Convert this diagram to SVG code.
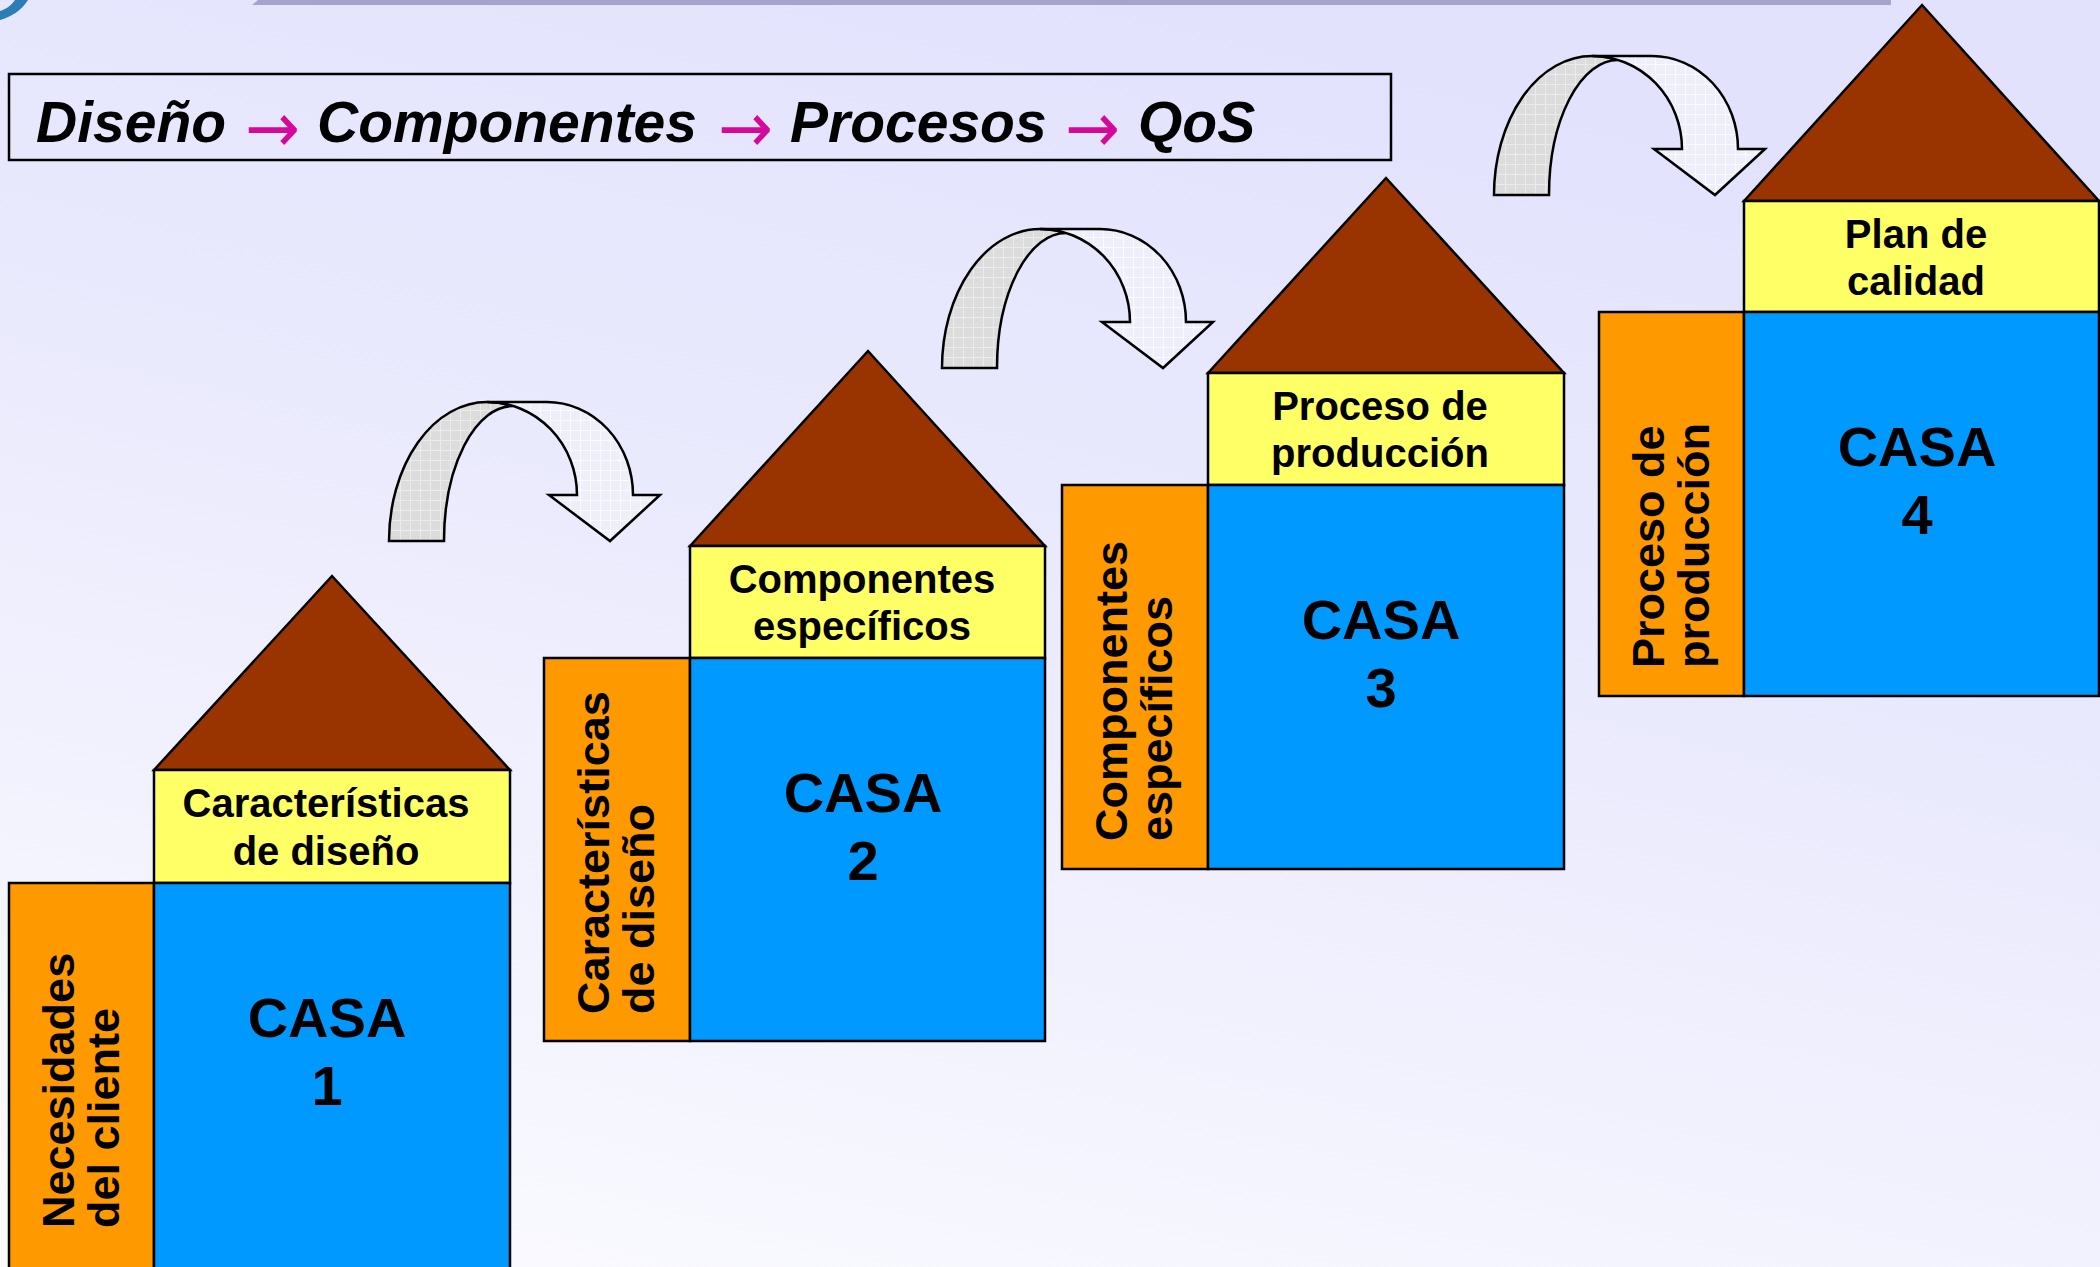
<svg xmlns="http://www.w3.org/2000/svg" width="2100" height="1267" viewBox="0 0 2100 1267">
  <defs>
    <linearGradient id="bg" x1="0.15" y1="1" x2="0.55" y2="0">
      <stop offset="0" stop-color="#fafaff"/>
      <stop offset="0.55" stop-color="#ebebfd"/>
      <stop offset="1" stop-color="#e2e2fd"/>
    </linearGradient>
    <pattern id="gridGrey" width="10" height="10" patternUnits="userSpaceOnUse">
      <rect width="10" height="10" fill="#dcdcdc"/>
      <path d="M0,0.5H10M0.5,0V10" stroke="#ebebeb" stroke-width="1"/>
    </pattern>
    <pattern id="gridLight" width="10" height="10" patternUnits="userSpaceOnUse">
      <rect width="10" height="10" fill="#efeffc"/>
      <path d="M0,0.5H10M0.5,0V10" stroke="#fbfbff" stroke-width="1"/>
    </pattern>
    <!-- curved "turn-over" arrow, drawn at its first position -->
    <g id="bendArrow">
      <path class="arrowBack" d="M389,541 A98,139 0 0 1 487,402 A90,93 0 0 1 513,406 A69,135 0 0 0 444,541 Z"/>
      <path class="arrowFront" d="M487,402 L547,402 A86,93 0 0 1 633,495 L660,495 L610,541 L549,495 L577,495 A90,93 0 0 0 487,402 Z"/>
    </g>
  </defs>
  <style>
    .roof { fill: #993300; stroke: #000; stroke-width: 2.5; stroke-linejoin: miter; }
    .top { fill: #ffff66; stroke: #000; stroke-width: 2.5; }
    .side { fill: #ff9900; stroke: #000; stroke-width: 2.5; }
    .body { fill: #0099ff; stroke: #000; stroke-width: 2.5; }
    .arrowBack { fill: url(#gridGrey); stroke: #000; stroke-width: 2.5; stroke-linejoin: miter; }
    .arrowFront { fill: url(#gridLight); stroke: #000; stroke-width: 2.5; stroke-linejoin: miter; }
    text { font-family: "Liberation Sans", Arial, sans-serif; font-weight: bold; fill: #000; }
    .lbl { font-size: 40px; text-anchor: middle; }
    .vlbl { font-size: 45px; }
    .casa { font-size: 56px; text-anchor: middle; }
    .title { font-size: 57px; font-style: italic; }
    .arr { font-family: "DejaVu Sans", sans-serif; font-size: 70px; font-weight: normal; fill: #d4089a; }
  </style>

  <!-- background -->
  <rect x="0" y="0" width="2100" height="1267" fill="url(#bg)"/>
  <polygon points="258,0 1891,0 1891,5 252,5" fill="#a4a4cc"/>
  <path d="M0,20 C11,17 22,10 28,0 L15,0 C11,6 6,9 0,11 Z" fill="#2b7db3"/>

  <!-- heading -->
  <g id="heading">
    <rect x="9" y="74" width="1382" height="86" fill="none" stroke="#000" stroke-width="2.5"/>
    <text class="title" y="142"><tspan x="36">Diseño</tspan><tspan x="317">Componentes</tspan><tspan x="790">Procesos</tspan><tspan x="1138">QoS</tspan></text>
    <text class="arr" y="152"><tspan x="245" textLength="55" lengthAdjust="spacingAndGlyphs">→</tspan><tspan x="718" textLength="55" lengthAdjust="spacingAndGlyphs">→</tspan><tspan x="1065" textLength="55" lengthAdjust="spacingAndGlyphs">→</tspan></text>
  </g>

  <!-- connectors: bent arrows between the houses -->
  <g id="connectors">
    <use href="#bendArrow"/>
    <use href="#bendArrow" transform="translate(553,-173)"/>
    <use href="#bendArrow" transform="translate(1105,-346)"/>
  </g>

  <!-- house 1 -->
  <g id="casa1">
    <polygon class="roof" points="154,770 332,576 510,770"/>
    <rect class="top" x="154" y="770" width="356" height="113"/>
    <rect class="side" x="9" y="883" width="145" height="386"/>
    <rect class="body" x="154" y="883" width="356" height="386"/>
    <text class="lbl"><tspan x="326" y="817">Características</tspan><tspan x="326" y="865">de diseño</tspan></text>
    <text class="casa"><tspan x="327" y="1037">CASA</tspan><tspan x="327" y="1105">1</tspan></text>
    <text class="vlbl" transform="translate(74,1228) rotate(-90)"><tspan x="0" y="0">Necesidades</tspan><tspan x="0" y="45">del cliente</tspan></text>
  </g>

  <!-- house 2 -->
  <g id="casa2">
    <polygon class="roof" points="690,546 868,351 1045,546"/>
    <rect class="top" x="690" y="546" width="355" height="112"/>
    <rect class="side" x="544" y="658" width="146" height="383"/>
    <rect class="body" x="690" y="658" width="355" height="383"/>
    <text class="lbl"><tspan x="862" y="593">Componentes</tspan><tspan x="862" y="640">específicos</tspan></text>
    <text class="casa"><tspan x="863" y="812">CASA</tspan><tspan x="863" y="880">2</tspan></text>
    <text class="vlbl" transform="translate(609,1014) rotate(-90)"><tspan x="0" y="0">Características</tspan><tspan x="0" y="45">de diseño</tspan></text>
  </g>

  <!-- house 3 -->
  <g id="casa3">
    <polygon class="roof" points="1208,373 1386,178 1564,373"/>
    <rect class="top" x="1208" y="373" width="356" height="112"/>
    <rect class="side" x="1062" y="485" width="146" height="384"/>
    <rect class="body" x="1208" y="485" width="356" height="384"/>
    <text class="lbl"><tspan x="1380" y="420">Proceso de</tspan><tspan x="1380" y="467">producción</tspan></text>
    <text class="casa"><tspan x="1381" y="639">CASA</tspan><tspan x="1381" y="707">3</tspan></text>
    <text class="vlbl" transform="translate(1127,841) rotate(-90)"><tspan x="0" y="0">Componentes</tspan><tspan x="0" y="45">específicos</tspan></text>
  </g>

  <!-- house 4 -->
  <g id="casa4">
    <polygon class="roof" points="1744,201 1922,5 2099,201"/>
    <rect class="top" x="1744" y="201" width="355" height="111"/>
    <rect class="side" x="1599" y="312" width="145" height="384"/>
    <rect class="body" x="1744" y="312" width="355" height="384"/>
    <text class="lbl"><tspan x="1916" y="248">Plan de</tspan><tspan x="1916" y="295">calidad</tspan></text>
    <text class="casa"><tspan x="1917" y="466">CASA</tspan><tspan x="1917" y="534">4</tspan></text>
    <text class="vlbl" transform="translate(1664,668) rotate(-90)"><tspan x="0" y="0">Proceso de</tspan><tspan x="0" y="45">producción</tspan></text>
  </g>
</svg>
